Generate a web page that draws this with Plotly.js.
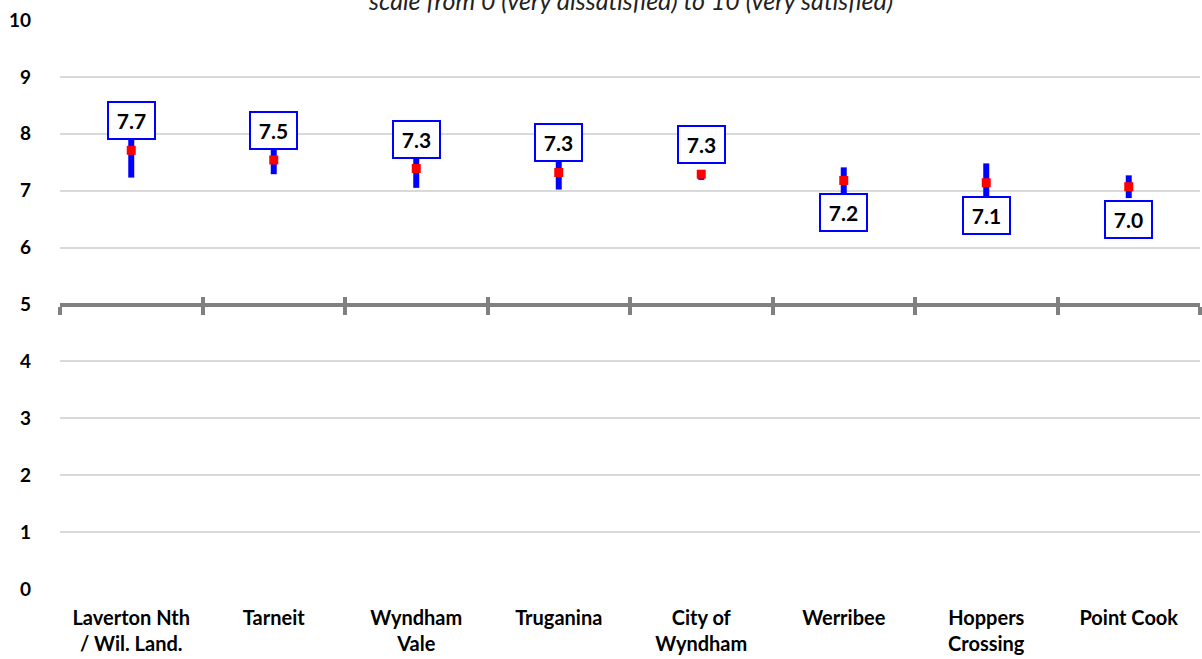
<!DOCTYPE html>
<html>
<head>
<meta charset="utf-8">
<script src="https://cdn.plot.ly/plotly-3.0.1.min.js"></script>
<style>
  html, body { margin: 0; padding: 0; background: #ffffff; }
  #chart { width: 1202px; height: 659px; }
</style>
</head>
<body>
<div id="chart"></div>
<script>
// ---- Data ----
const categories = [
  "Laverton Nth<br>/ Wil. Land.",
  "Tarneit",
  "Wyndham<br>Vale",
  "Truganina",
  "City of<br>Wyndham",
  "Werribee",
  "Hoppers<br>Crossing",
  "Point Cook"
];
const meanScores = [7.71, 7.54, 7.39, 7.32, 7.29, 7.18, 7.14, 7.07];
const ciLow      = [7.23, 7.29, 7.05, 7.02, 7.19, 6.95, 6.80, 6.87];
const ciHigh     = [8.19, 7.79, 7.73, 7.62, 7.36, 7.41, 7.48, 7.27];
const valueLabels = ["7.7", "7.5", "7.3", "7.3", "7.3", "7.2", "7.1", "7.0"];
const yTickValues = [0, 1, 2, 3, 4, 5, 6, 7, 8, 9, 10];
const subtitleText = "scale from 0 (very dissatisfied) to 10 (very satisfied)";

// ---- Chart ----
const FONT = "Lato, 'Open Sans', sans-serif";
const BLUE = "#0000ff";
const RED = "#ff0000";
const AXIS_GRAY = "#808080";

const trace = {
  type: "scatter",
  mode: "markers",
  x: categories,
  y: meanScores,
  marker: { symbol: "square", size: 9, color: RED },
  error_y: {
    type: "data",
    symmetric: false,
    array: meanScores.map((m, i) => ciHigh[i] - m),
    arrayminus: meanScores.map((m, i) => m - ciLow[i]),
    color: BLUE,
    thickness: 6,
    width: 0
  },
  hoverinfo: "skip",
  showlegend: false
};

// empty traces so that the overlaying "crossing" axes at 5 get drawn
const axisTrace2 = { type: "scatter", mode: "markers", x: [], y: [], xaxis: "x2", yaxis: "y", showlegend: false, hoverinfo: "skip" };
const axisTrace3 = { type: "scatter", mode: "markers", x: [], y: [], xaxis: "x3", yaxis: "y", showlegend: false, hoverinfo: "skip" };

const catRange = [-0.5, categories.length - 0.5];
const boundaries = categories.map((_, i) => i - 0.5).concat([categories.length - 0.5]);

const annotations = categories.map((c, i) => {
  const above = i < 5;
  return {
    x: c, xref: "x",
    y: meanScores[i], yref: "y",
    text: valueLabels[i],
    showarrow: false,
    xanchor: "center",
    yanchor: above ? "bottom" : "top",
    yshift: above ? 10 : -13,
    width: 45,
    height: 35,
    bgcolor: "#ffffff",
    bordercolor: BLUE,
    borderwidth: 2,
    borderpad: 0,
    font: { family: FONT, size: 21, color: "#000000", weight: 700 }
  };
});

annotations.push({
  x: 0.5, xref: "paper",
  y: 1, yref: "paper",
  yshift: 20,
  xanchor: "center",
  yanchor: "middle",
  showarrow: false,
  text: "<i>" + subtitleText + "</i>",
  font: { family: FONT, size: 25, color: "#222222" }
});

const crossAxis = {
  overlaying: "x",
  anchor: "free",
  position: 0.5,
  range: catRange,
  tickmode: "array",
  tickvals: boundaries,
  ticklen: 8,
  tickwidth: 4,
  tickcolor: AXIS_GRAY,
  showticklabels: false,
  showgrid: false,
  zeroline: false
};

const layout = {
  width: 1202,
  height: 659,
  margin: { l: 60, r: 2, t: 20, b: 70 },
  paper_bgcolor: "#ffffff",
  plot_bgcolor: "#ffffff",
  showlegend: false,
  xaxis: {
    type: "category",
    range: catRange,
    showgrid: false,
    showline: false,
    zeroline: false,
    ticks: "",
    ticklabelstandoff: 15,
    tickfont: { family: FONT, size: 20, color: "#000000", weight: 700 }
  },
  xaxis2: Object.assign({}, crossAxis, {
    showline: true, linecolor: AXIS_GRAY, linewidth: 4, ticks: "outside"
  }),
  xaxis3: Object.assign({}, crossAxis, {
    showline: false, ticks: "inside"
  }),
  yaxis: {
    range: [0, 10],
    tickmode: "array",
    tickvals: yTickValues,
    showgrid: true,
    gridcolor: "#d9d9d9",
    gridwidth: 2,
    zeroline: false,
    showline: false,
    ticks: "",
    ticklabelstandoff: 28,
    tickfont: { family: FONT, size: 19, color: "#000000", weight: 700 }
  },
  annotations: annotations
};

Plotly.newPlot("chart", [axisTrace2, axisTrace3, trace], layout, { displayModeBar: false, staticPlot: true });
</script>
</body>
</html>
